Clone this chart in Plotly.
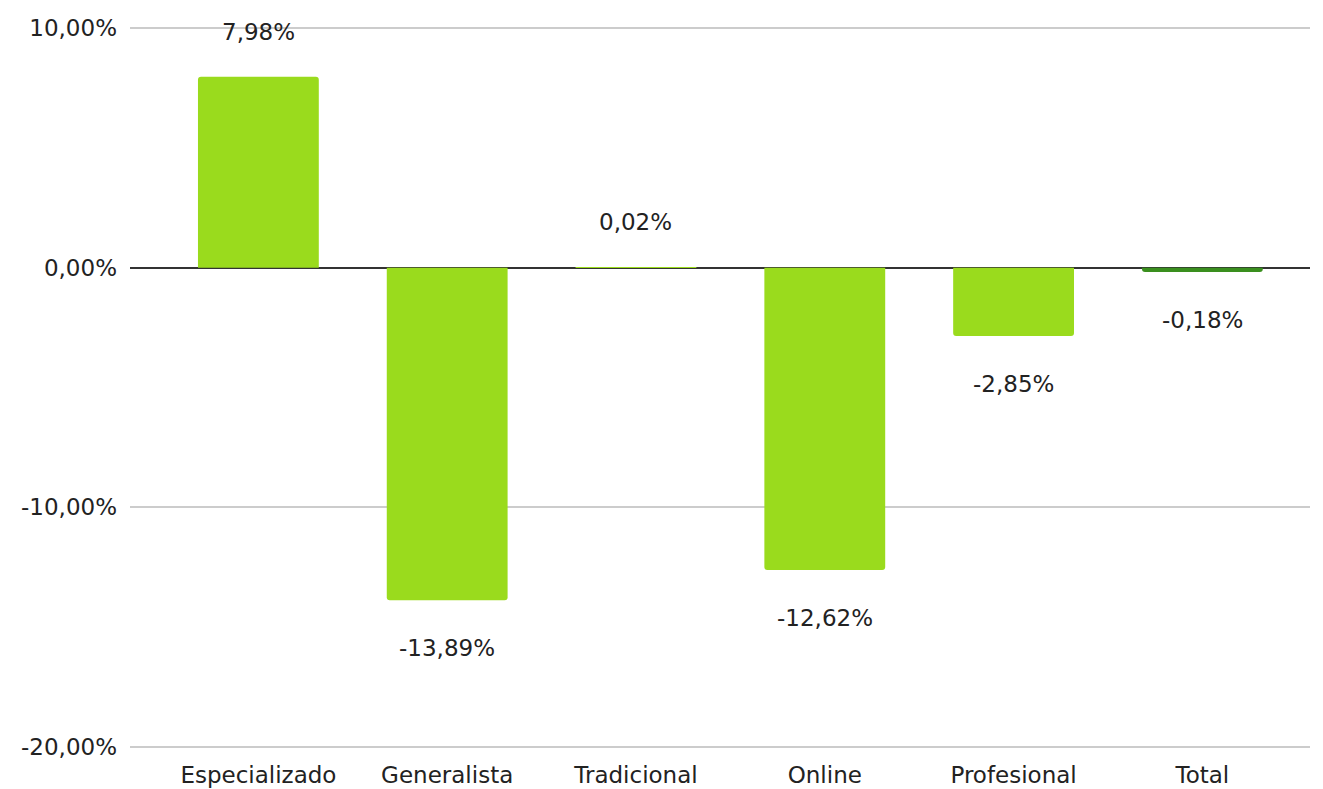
import plotly.graph_objects as go

categories = ["Especializado", "Generalista", "Tradicional", "Online", "Profesional", "Total"]
values = [7.98, -13.89, 0.02, -12.62, -2.85, -0.18]
labels = ["7,98%", "-13,89%", "0,02%", "-12,62%", "-2,85%", "-0,18%"]
bar_colors = ["#9ADB1D", "#9ADB1D", "#9ADB1D", "#9ADB1D", "#9ADB1D", "#3A8F1E"]
tick_vals = [10, 0, -10, -20]
tick_text = ["10,00%", "0,00%", "-10,00%", "-20,00%"]

font_family = "DejaVu Sans, Roboto, Arial, sans-serif"
fsize = 23
fcolor = "#222222"

fig = go.Figure()
fig.add_trace(go.Bar(
    x=categories, y=values,
    marker=dict(color=bar_colors, line=dict(width=0), cornerradius=3),
    hoverinfo="skip",
))

for c, v, t in zip(categories, values, labels):
    fig.add_annotation(
        x=c, y=v, text=t, showarrow=False,
        yshift=45 if v >= 0 else -48,
        font=dict(family=font_family, size=fsize, color=fcolor),
    )

fig.update_layout(
    width=1315, height=781,
    margin=dict(l=122, r=13, t=18, b=40, autoexpand=False),
    plot_bgcolor="white", paper_bgcolor="white",
    bargap=0.36,
    showlegend=False,
    font=dict(family=font_family, size=fsize, color=fcolor),
    xaxis=dict(
        range=[-0.68, 5.57], showgrid=False, zeroline=False,
        showline=False, ticks="", ticklabelstandoff=10, automargin=False,
        tickfont=dict(size=fsize, color=fcolor),
    ),
    yaxis=dict(
        range=[-20.1, 10.1], tickvals=tick_vals, ticktext=tick_text,
        showgrid=True, gridcolor="#CCCCCC", gridwidth=1.5,
        zeroline=True, zerolinecolor="#333333", zerolinewidth=1.5,
        ticks="", ticklabelstandoff=12, automargin=False,
        tickfont=dict(size=fsize, color=fcolor),
    ),
)

fig.write_html("out.html")
